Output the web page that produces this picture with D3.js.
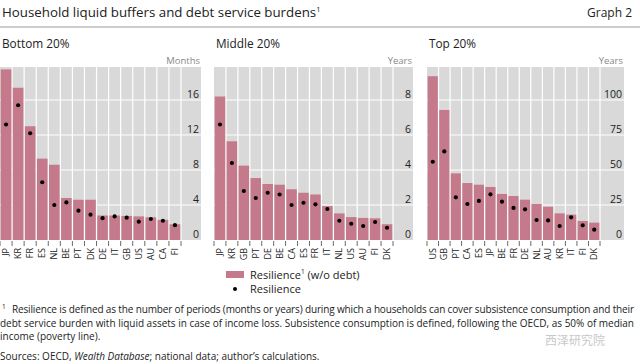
<!DOCTYPE html>
<html>
<head>
<meta charset="utf-8">
<script src="https://cdn.jsdelivr.net/npm/d3@7"></script>
<style>
  body { margin: 0; background: #fff; }
  svg { display: block; font-family: "Open Sans", "Noto Sans", sans-serif; }
  .tick-label { font-size: 10.5px; fill: #222; }
  .x-label { font-size: 9px; fill: #222; }
  .unit { font-size: 9.5px; fill: #888; }
  .panel-title { font-size: 11.8px; fill: #222; }
  .note { font-size: 10px; fill: #222; }
</style>
</head>
<body>
<script>
// ---- data ----
var bottomCountries = ["JP", "KR", "FR", "ES", "NL", "BE", "PT", "DK", "DE", "IT", "GB", "US", "AU", "CA", "FI"];
var bottomBars = [19.5, 17.4, 13.0, 9.3, 8.6, 4.8, 4.6, 4.6, 2.8, 2.8, 2.75, 2.7, 2.6, 2.3, 1.8];
var bottomDots = [13.2, 15.4, 12.2, 6.6, 4.0, 4.3, 3.35, 2.9, 2.5, 2.7, 2.55, 2.1, 2.4, 2.2, 1.7];

var middleCountries = ["JP", "KR", "GB", "PT", "DE", "BE", "CA", "ES", "FR", "IT", "NL", "US", "AU", "FI", "DK"];
var middleBars = [8.2, 5.64, 4.25, 3.54, 3.2, 3.16, 2.9, 2.7, 2.6, 1.94, 1.52, 1.31, 1.26, 1.24, 0.9];
var middleDots = [6.6, 4.4, 2.8, 2.4, 2.7, 2.6, 2.0, 2.13, 2.04, 1.77, 1.1, 0.93, 0.8, 1.03, 0.7];

var topCountries = ["US", "GB", "PT", "CA", "ES", "JP", "BE", "FR", "DE", "NL", "AU", "KR", "IT", "FI", "DK"];
var topBars = [117, 92.9, 47.6, 40.7, 39.5, 37.9, 32.9, 31.4, 28.8, 25.7, 23.8, 19.0, 18.1, 13.6, 12.4];
var topDots = [55.9, 63.3, 30.5, 25.7, 27.9, 32.6, 27.4, 22.9, 21.9, 14.3, 14.0, 10.0, 16.2, 10.5, 7.4];

var panelTitles = ["Bottom 20%", "Middle 20%", "Top 20%"];
var unitLabels = ["Months", "Years", "Years"];
var yMax = [20, 10, 125];
var yTicks = [[0, 4, 8, 12, 16], [0, 2, 4, 6, 8], [0, 25, 50, 75, 100]];

var barColor = "#c47a8b";
var bgColor = "#d9d9d9";

var width = 640, height = 364;

var svg = d3.select("body").append("svg")
    .attr("width", width)
    .attr("height", height);

// title
var title = svg.append("text")
    .attr("x", 2)
    .attr("y", 17)
    .attr("font-size", 13.3)
    .attr("fill", "#222");
title.append("tspan").text("Household liquid buffers and debt service burdens");
title.append("tspan").text("1").attr("font-size", 7.5).attr("dy", -5);

svg.append("text")
    .attr("x", 632)
    .attr("y", 17)
    .attr("text-anchor", "end")
    .attr("font-size", 12)
    .attr("fill", "#222")
    .text("Graph 2");

svg.append("line")
    .attr("x1", 0).attr("x2", width)
    .attr("y1", 27).attr("y2", 27)
    .attr("stroke", "#999")
    .attr("stroke-width", 1);

var panels = [
    {x0: 0, x1: 201, barsEnd: 181, countries: bottomCountries, bars: bottomBars, dots: bottomDots},
    {x0: 214, x1: 413, barsEnd: 393, countries: middleCountries, bars: middleBars, dots: middleDots},
    {x0: 427, x1: 624, barsEnd: 600, countries: topCountries, bars: topBars, dots: topDots}
];

var plotTop = 67, plotBottom = 240;

panels.forEach(function(p, i) {
    var g = svg.append("g").attr("id", "panel-" + i);

    // panel title
    g.append("text")
        .attr("class", "panel-title")
        .attr("x", p.x0 + 2)
        .attr("y", 48)
        .text(panelTitles[i]);

    g.append("text")
        .attr("class", "unit")
        .attr("x", p.x1 - 1)
        .attr("y", 64)
        .attr("text-anchor", "end")
        .text(unitLabels[i]);

    var xScale = d3.scaleBand()
        .domain(p.countries)
        .range([p.x0, p.barsEnd])
        .paddingInner(0.12)
        .paddingOuter(0.06);

    var yScale = d3.scaleLinear()
        .domain([0, yMax[i]])
        .range([plotBottom, 65]);

    // background
    g.append("rect")
        .attr("x", p.x0)
        .attr("y", plotTop)
        .attr("width", p.x1 - p.x0)
        .attr("height", plotBottom - plotTop)
        .attr("fill", bgColor);

    // horizontal gridlines
    g.selectAll(".hgrid")
        .data(yTicks[i].slice(1))
        .enter().append("line")
        .attr("x1", p.x0).attr("x2", p.x1)
        .attr("y1", function(d) { return yScale(d); })
        .attr("y2", function(d) { return yScale(d); })
        .attr("stroke", "#fff")
        .attr("stroke-width", 1);

    // vertical gridlines at band boundaries
    var bounds = d3.range(1, p.countries.length + 1).map(function(k) { return p.x0 + k * (p.barsEnd - p.x0) / p.countries.length; });
    g.selectAll(".vgrid")
        .data(bounds)
        .enter().append("line")
        .attr("x1", function(d) { return d; })
        .attr("x2", function(d) { return d; })
        .attr("y1", plotTop).attr("y2", plotBottom)
        .attr("stroke", "#fff")
        .attr("stroke-width", 1.2);

    // bars
    g.selectAll(".bar")
        .data(p.bars)
        .enter().append("rect")
        .attr("x", function(d, k) { return xScale(p.countries[k]); })
        .attr("width", xScale.bandwidth())
        .attr("y", function(d) { return yScale(d); })
        .attr("height", function(d) { return plotBottom - yScale(d); })
        .attr("fill", barColor);

    // dots
    g.selectAll(".dot")
        .data(p.dots)
        .enter().append("circle")
        .attr("cx", function(d, k) { return xScale(p.countries[k]) + xScale.bandwidth() / 2; })
        .attr("cy", function(d) { return yScale(d); })
        .attr("r", 2.1)
        .attr("fill", "#000");

    // y tick labels (inside the gray, right side)
    g.selectAll(".tick-label")
        .data(yTicks[i])
        .enter().append("text")
        .attr("class", "tick-label")
        .attr("x", p.x1 - 2)
        .attr("y", function(d) { return yScale(d) - 2; })
        .attr("text-anchor", "end")
        .text(function(d) { return d; });

    // x ticks
    var tickXs = [p.x0].concat(bounds);
    g.selectAll(".xtick")
        .data(tickXs)
        .enter().append("line")
        .attr("x1", function(d) { return d; })
        .attr("x2", function(d) { return d; })
        .attr("y1", plotBottom + 1).attr("y2", plotBottom + 6)
        .attr("stroke", "#444")
        .attr("stroke-width", 0.8);

    g.selectAll(".x-label")
        .data(p.countries)
        .enter().append("text")
        .attr("class", "x-label")
        .attr("text-anchor", "end")
        .attr("transform", function(d) {
            var cx = xScale(d) + xScale.bandwidth() / 2 + 3;
            return "translate(" + cx + "," + (plotBottom + 8) + ") rotate(-90)";
        })
        .text(function(d) { return d; });
});

// legend
var legend = svg.append("g");
legend.append("rect")
    .attr("x", 226).attr("y", 271)
    .attr("width", 18).attr("height", 7)
    .attr("fill", barColor);
var l1 = legend.append("text")
    .attr("x", 250).attr("y", 279)
    .attr("font-size", 11).attr("fill", "#222");
l1.append("tspan").text("Resilience");
l1.append("tspan").text("1").attr("font-size", 6.5).attr("dy", -5);
l1.append("tspan").text(" (w/o debt)").attr("dy", 5);
legend.append("circle")
    .attr("cx", 235).attr("cy", 289)
    .attr("r", 2)
    .attr("fill", "#000");
legend.append("text")
    .attr("x", 250).attr("y", 293)
    .attr("font-size", 11).attr("fill", "#222")
    .text("Resilience");

// footnotes
svg.append("text")
    .attr("x", 2).attr("y", 309)
    .attr("font-size", 6.5).attr("fill", "#222")
    .text("1");
svg.append("text")
    .attr("class", "note")
    .attr("x", 12).attr("y", 313)
    .attr("textLength", 622)
    .attr("lengthAdjust", "spacing")
    .text("Resilience is defined as the number of periods (months or years) during which a households can cover subsistence consumption and their");
svg.append("text")
    .attr("class", "note")
    .attr("x", 0).attr("y", 327)
    .attr("textLength", 634)
    .attr("lengthAdjust", "spacing")
    .text("debt service burden with liquid assets in case of income loss. Subsistence consumption is defined, following the OECD, as 50% of median");
svg.append("text")
    .attr("class", "note")
    .attr("x", 0).attr("y", 340)
    .text("income (poverty line).");

var src = svg.append("text")
    .attr("class", "note")
    .attr("x", 0).attr("y", 360);
src.append("tspan").text("Sources: OECD, ");
src.append("tspan").text("Wealth Database").attr("font-style", "italic");
src.append("tspan").text("; national data; author’s calculations.");

// watermark
svg.append("text")
    .attr("x", 545).attr("y", 345)
    .attr("font-family", "Noto Sans CJK SC")
    .attr("font-size", 12)
    .attr("fill", "#c8c8c8")
    .text("西泽研究院");
</script>
</body>
</html>
